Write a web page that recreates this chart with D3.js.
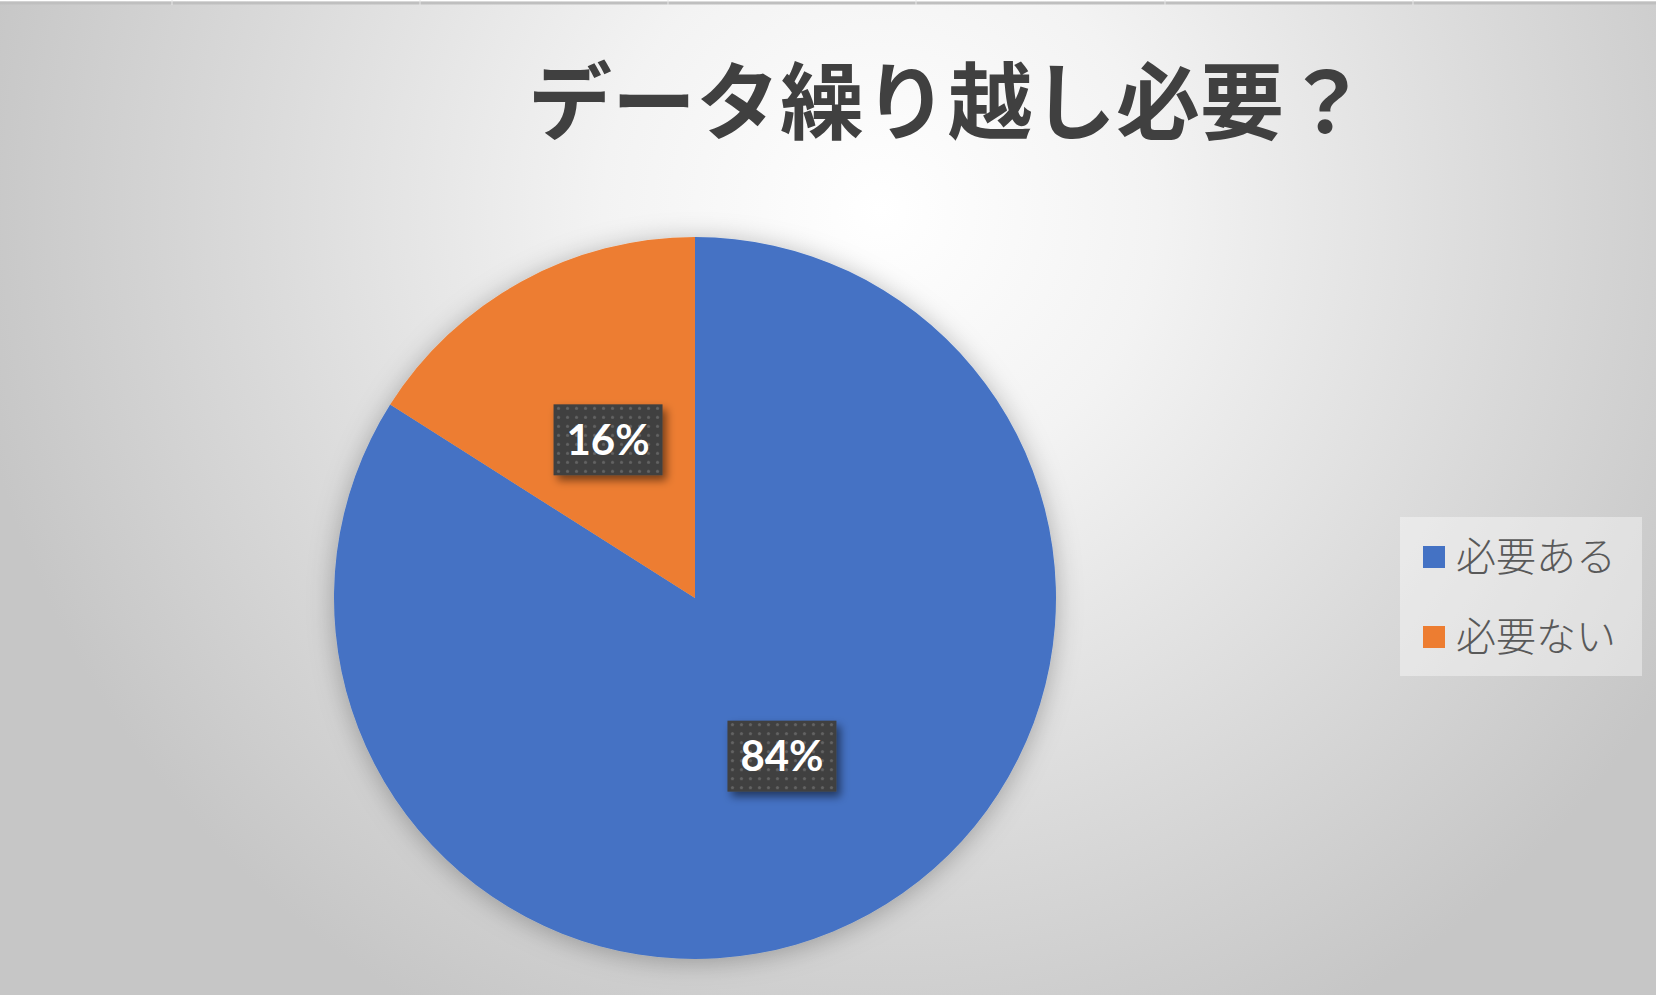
<!DOCTYPE html>
<html>
<head>
<meta charset="utf-8">
<script src="https://cdn.jsdelivr.net/npm/d3@7"></script>
<style>
  html, body { margin: 0; padding: 0; background: #ffffff; overflow: hidden; }
  svg { display: block; }
</style>
</head>
<body>
<div id="chart"></div>
<script>
const chartTitle = "データ繰り越し必要？";
const categories = ["必要ある", "必要ない"];
const shares = [84, 16];
const sliceColors = ["#4472C4", "#ED7D31"];
const gridColumns = [172, 420, 668, 916, 1165, 1413];

const width = 1656;
const height = 995;
const center = [695, 598];
const radius = 361;

const svg = d3.select("#chart")
  .append("svg")
  .attr("width", width)
  .attr("height", height);

const defs = svg.append("defs");

// background: radial gradient, white near the title
const bg = defs.append("radialGradient")
  .attr("id", "bgGrad")
  .attr("gradientUnits", "userSpaceOnUse")
  .attr("cx", 880)
  .attr("cy", 210)
  .attr("r", 920);
bg.append("stop").attr("offset", "0").attr("stop-color", "#ffffff");
bg.append("stop").attr("offset", "0.3").attr("stop-color", "#f3f3f3");
bg.append("stop").attr("offset", "0.7").attr("stop-color", "#d9d9d9");
bg.append("stop").attr("offset", "1").attr("stop-color", "#c6c6c6");

const pieShadow = defs.append("filter")
  .attr("id", "pieShadow")
  .attr("x", "-20%").attr("y", "-20%")
  .attr("width", "140%").attr("height", "140%");
pieShadow.append("feDropShadow")
  .attr("dx", 0).attr("dy", 3)
  .attr("stdDeviation", 13)
  .attr("flood-color", "#000")
  .attr("flood-opacity", 0.28);

const boxShadow = defs.append("filter")
  .attr("id", "boxShadow")
  .attr("x", "-30%").attr("y", "-30%")
  .attr("width", "160%").attr("height", "160%");
boxShadow.append("feDropShadow")
  .attr("dx", 4).attr("dy", 5)
  .attr("stdDeviation", 4)
  .attr("flood-color", "#000")
  .attr("flood-opacity", 0.5);

const dots = defs.append("pattern")
  .attr("id", "dots")
  .attr("patternUnits", "userSpaceOnUse")
  .attr("width", 9)
  .attr("height", 9);
dots.append("rect").attr("width", 9).attr("height", 9).attr("fill", "#404040");
dots.append("circle").attr("cx", 4.5).attr("cy", 4.5).attr("r", 1.6).attr("fill", "#646464");

svg.append("rect")
  .attr("width", width)
  .attr("height", height)
  .attr("fill", "url(#bgGrad)");

// spreadsheet edge above the chart
svg.append("rect")
  .attr("x", 0).attr("y", 0)
  .attr("width", width).attr("height", 1.5)
  .attr("fill", "#ffffff");
svg.append("rect")
  .attr("x", 0).attr("y", 1.5)
  .attr("width", width).attr("height", 3)
  .attr("fill", "#bfbfbf");
svg.selectAll(".gridcol")
  .data(gridColumns)
  .enter()
  .append("line")
  .attr("class", "gridcol")
  .attr("x1", d => d).attr("x2", d => d)
  .attr("y1", 0).attr("y2", 5)
  .attr("stroke", "#e8e8e8")
  .attr("stroke-width", 1);

svg.append("text")
  .attr("x", 528)
  .attr("y", 133)
  .text(chartTitle)
  .style("font-family", "'Noto Sans CJK JP', sans-serif")
  .style("font-weight", 700)
  .style("font-size", "84px")
  .style("fill", "#404040");

const pie = d3.pie().sort(null).value(d => d);
const arcs = pie(shares);
const arc = d3.arc().innerRadius(0).outerRadius(radius);
const total = d3.sum(shares);
const pct = d3.format(".0%");

const pieG = svg.append("g")
  .attr("transform", "translate(" + center[0] + "," + center[1] + ")");

pieG.append("g")
  .attr("filter", "url(#pieShadow)")
  .selectAll("path")
  .data(arcs)
  .enter()
  .append("path")
  .attr("d", arc)
  .attr("fill", (d, i) => sliceColors[i]);

const boxW = 109;
const boxH = 71;

const labels = pieG.selectAll(".lbl")
  .data(arcs)
  .enter()
  .append("g")
  .attr("class", "lbl")
  .attr("transform", d => "translate(" + arc.centroid(d) + ")");

labels.append("rect")
  .attr("x", -boxW / 2)
  .attr("y", -boxH / 2)
  .attr("width", boxW)
  .attr("height", boxH)
  .attr("fill", "url(#dots)")
  .attr("filter", "url(#boxShadow)");

labels.append("text")
  .attr("text-anchor", "middle")
  .attr("dy", "0.36em")
  .text(d => pct(d.value / total))
  .style("font-family", "Lato, 'Open Sans', sans-serif")
  .style("font-weight", 700)
  .style("font-size", "42px")
  .style("fill", "#ffffff");

// legend
const legend = svg.append("g");
legend.append("rect")
  .attr("x", 1400)
  .attr("y", 517)
  .attr("width", 242)
  .attr("height", 159)
  .attr("fill", "#ffffff")
  .attr("fill-opacity", 0.4);

const rowY = d3.scalePoint()
  .domain(categories)
  .range([557, 637]);

const items = legend.selectAll(".item")
  .data(categories)
  .enter()
  .append("g")
  .attr("class", "item")
  .attr("transform", d => "translate(0," + rowY(d) + ")");

items.append("rect")
  .attr("x", 1423)
  .attr("y", -11)
  .attr("width", 22)
  .attr("height", 22)
  .attr("fill", (d, i) => sliceColors[i]);

items.append("text")
  .attr("x", 1456)
  .attr("dy", "0.36em")
  .text(d => d)
  .style("font-family", "'Noto Sans CJK JP', sans-serif")
  .style("font-weight", 300)
  .style("font-size", "40px")
  .style("fill", "#595959");
</script>
</body>
</html>
